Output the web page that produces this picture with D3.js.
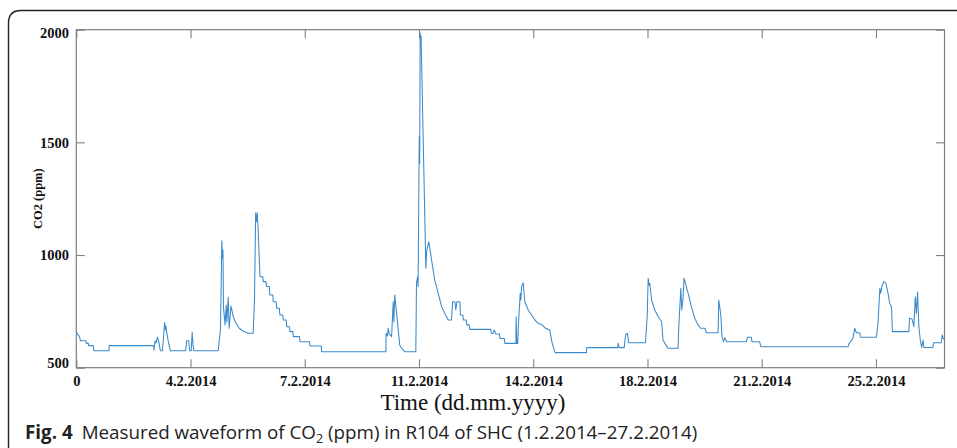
<!DOCTYPE html>
<html>
<head>
<meta charset="utf-8">
<script src="https://cdn.jsdelivr.net/npm/d3@7"></script>
<style>
  html, body { margin: 0; padding: 0; background: #fff; }
  svg { display: block; }
</style>
</head>
<body>
<svg id="chart" width="957" height="448"></svg>
<script>
// ---- Data (sample index, CO2 ppm) ----
const sampleIdx = [
  0,5,14,18,42,44,53,54,74,77,143,144,338,340,344,349,355,362,368,377,
  384,387,390,392,399,406,412,479,483,492,496,503,507,511,515,621,626,631,637,640,
  642,644,651,656,659,665,669,677,687,699,713,728,752,774,780,785,788,792,796,804,
  816,818,830,833,845,847,860,862,875,877,889,891,904,906,919,921,933,935,948,950,
  977,979,1021,1023,1072,1074,1355,1356,1362,1365,1370,1380,1387,1390,1394,1402,1409,1416,1424,1438,
  1486,1489,1494,1496,1501,1503,1505,1507,1509,1530,1534,1543,1555,1569,1584,1599,1613,1628,1642,1647,
  1657,1661,1666,1679,1681,1692,1694,1707,1709,1720,1722,1814,1816,1825,1829,1836,1852,1854,1873,1876,
  1924,1925,1928,1932,1935,1943,1946,1949,1956,1963,1978,1993,2007,2021,2039,2054,2072,2083,2094,2097,
  2233,2234,2370,2371,2377,2398,2404,2412,2418,2491,2496,2499,2503,2506,2510,2518,2532,2547,2562,2568,
  2576,2590,2634,2637,2646,2650,2655,2660,2666,2678,2692,2707,2721,2733,2751,2758,2809,2812,2821,2826,
  2833,2838,2847,2933,2937,2955,2957,2991,2996,3378,3382,3389,3399,3407,3414,3429,3432,3502,3509,3517,
  3521,3526,3534,3543,3553,3560,3568,3572,3644,3647,3658,3666,3672,3677,3682,3688,3694,3700,3706,3710,
  3749,3753,3786,3790,3796
];
const co2 = [
  660,650,638,620,620,608,608,598,598,575,575,598,598,578,618,610,636,610,575,575,
  667,700,667,685,636,600,575,575,620,620,575,575,657,600,575,575,623,667,1063,987,
  1022,771,690,778,703,812,675,774,726,697,675,664,653,653,800,1187,1148,1188,1111,904,
  904,882,882,860,860,823,823,793,793,764,764,734,734,712,712,682,682,660,660,638,
  638,615,615,596,596,571,571,653,641,675,650,638,793,704,823,741,667,600,586,571,
  571,875,904,860,1525,1407,1985,1954,1972,941,1022,1059,978,889,830,771,741,712,712,793,
  793,756,793,793,734,734,712,712,690,690,670,670,653,653,667,650,650,630,630,608,
  608,726,608,608,690,830,800,860,877,793,756,734,712,697,690,675,667,608,571,567,
  567,589,589,608,589,589,645,653,611,611,682,734,897,867,875,800,756,726,704,623,
  608,586,586,682,852,756,800,897,875,830,771,719,690,675,675,655,655,800,734,638,
  615,633,615,615,635,635,615,615,593,593,608,615,630,675,655,655,635,635,697,852,
  830,860,882,875,830,786,771,660,660,719,716,682,815,741,837,682,623,590,623,590,
  590,611,611,645,626
];

const xTickValues = [0, 500, 1000, 1500, 2000, 2500, 3000, 3500];
const xTickLabels = ["0", "4.2.2014", "7.2.2014", "11.2.2014", "14.2.2014", "18.2.2014", "21.2.2014", "25.2.2014"];
const yTickValues = [500, 1000, 1500, 2000];
const xDomain = [0, 3800];
const yDomain = [500, 2000];

const xTitle = "Time (dd.mm.yyyy)";
const yTitle = "CO2 (ppm)";

// ---- Layout ----
const W = 957, H = 448;
const plot = { left: 76.3, right: 944.5, top: 29.7, bottom: 367.7 };
const frameColor = "#7f7f7f";
const lineColor = "#3a8acb";
const serif = "'Liberation Serif', 'Times New Roman', serif";

const svg = d3.select("#chart");

// outer rounded border (figure panel)
svg.append("path")
  .attr("d", `M8.5,${H} V23 Q8.5,10.5 21,10.5 H${W}`)
  .attr("fill", "none")
  .attr("stroke", "#222")
  .attr("stroke-width", 1.4);

const x = d3.scaleLinear().domain(xDomain).range([plot.left, plot.right]);
const y = d3.scaleLinear().domain(yDomain).range([plot.bottom, plot.top]);

const tickLen = 8.5;

// bottom axis
const gx = svg.append("g")
  .attr("transform", `translate(0,${plot.bottom})`)
  .call(d3.axisBottom(x).tickValues(xTickValues)
    .tickFormat((d, i) => xTickLabels[i])
    .tickSize(-tickLen).tickPadding(7.6));
// top axis (ticks only)
const gxt = svg.append("g")
  .attr("transform", `translate(0,${plot.top})`)
  .call(d3.axisTop(x).tickValues(xTickValues).tickFormat("").tickSize(-tickLen));
// left axis
const gy = svg.append("g")
  .attr("transform", `translate(${plot.left},0)`)
  .call(d3.axisLeft(y).tickValues(yTickValues).tickFormat(d3.format("d"))
    .tickSize(-tickLen).tickPadding(7.3));
// right axis (ticks only)
const gyr = svg.append("g")
  .attr("transform", `translate(${plot.right},0)`)
  .call(d3.axisRight(y).tickValues(yTickValues).tickFormat("").tickSize(-tickLen));

[gx, gxt, gy, gyr].forEach(g => {
  g.select(".domain").remove();
  g.selectAll(".tick line").attr("stroke", frameColor).attr("stroke-width", 1.1);
  g.selectAll(".tick text")
    .attr("fill", "#111")
    .style("font-family", serif)
    .style("font-weight", "bold")
    .style("font-size", "14.5px");
});
// pull the end labels of the y axis slightly inward, as in the reference
gy.selectAll(".tick text")
  .attr("dy", d => d === yDomain[1] ? "0.55em" : d === yDomain[0] ? "-0.02em" : "0.32em");

// plot frame
svg.append("rect")
  .attr("x", plot.left).attr("y", plot.top)
  .attr("width", plot.right - plot.left)
  .attr("height", plot.bottom - plot.top)
  .attr("fill", "none")
  .attr("stroke", frameColor)
  .attr("stroke-width", 1.2);

// data line
const data = sampleIdx.map((s, i) => [s, co2[i]]);
svg.append("path")
  .datum(data)
  .attr("fill", "none")
  .attr("stroke", lineColor)
  .attr("stroke-width", 1.05)
  .attr("stroke-linejoin", "round")
  .attr("d", d3.line().x(d => x(d[0])).y(d => y(d[1])));

// axis titles
svg.append("text")
  .attr("x", 473).attr("y", 409.5)
  .attr("text-anchor", "middle")
  .style("font-family", serif)
  .style("font-size", "23px")
  .attr("fill", "#111")
  .text(xTitle);

svg.append("text")
  .attr("transform", `translate(41.5,${(plot.top + plot.bottom) / 2}) rotate(-90)`)
  .attr("text-anchor", "middle")
  .style("font-family", serif)
  .style("font-weight", "bold")
  .style("font-size", "12.5px")
  .attr("fill", "#111")
  .text(yTitle);

// figure caption
const cap = svg.append("text")
  .attr("x", 25).attr("y", 439)
  .style("font-family", "'Open Sans', 'Noto Sans', sans-serif")
  .style("font-size", "18.8px")
  .attr("fill", "#222");
cap.append("tspan").style("font-weight", "bold").text("Fig. 4");
cap.append("tspan").attr("dx", 9).text("Measured waveform of CO");
cap.append("tspan").attr("dy", 4).style("font-size", "12.5px").text("2");
cap.append("tspan").attr("dy", -4).text(" (ppm) in R104 of SHC (1.2.2014–27.2.2014)");
</script>
</body>
</html>
